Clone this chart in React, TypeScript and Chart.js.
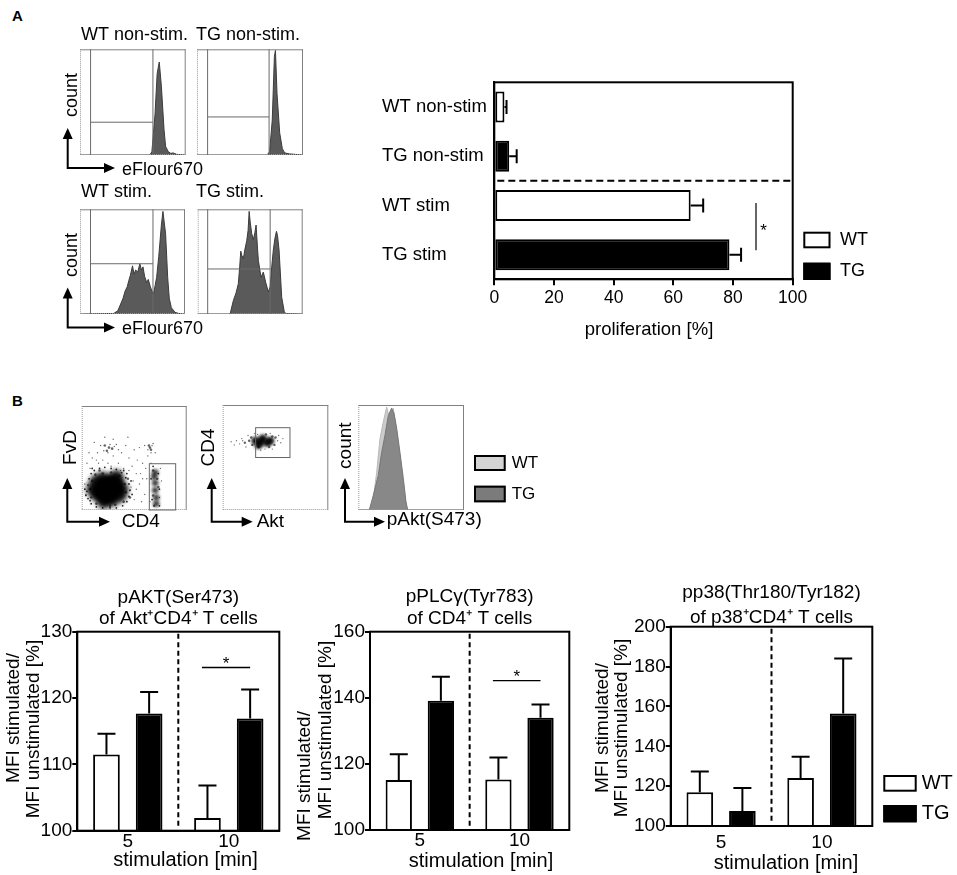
import React, { useEffect, useRef } from "react";
import { Chart, registerables } from "chart.js";

Chart.register(...registerables);

const FONT = "'Liberation Sans', Arial, Helvetica, sans-serif";
Chart.defaults.font.family = FONT;
Chart.defaults.color = "#000";

// ================= DATA =================
// Panel A – eFlour670 dilution histograms (x: fluorescence %, y: count %)
const wtNonStimX = [0, 66, 68, 71, 73, 75, 77, 79.5, 81, 83.6, 86, 88, 91.5, 100];
const wtNonStimY = [0, 0, 3, 39, 77, 88, 65, 24, 8, 3, 1.5, 2, 0.6, 0];
const tgNonStimX = [0, 66, 68.5, 71, 73, 74, 75.5, 78, 80.5, 82.7, 87.4, 100];
const tgNonStimY = [0, 0, 3, 33, 93, 99, 58, 21, 6, 2, 1, 0];
const wtStimX = [0, 32, 36, 41, 43, 45, 46.5, 48, 50, 51.5, 53, 55, 57, 58.5, 60, 61.5, 63.5, 65, 67, 68.5, 70, 71.5, 73, 75, 76, 77.5, 79, 80.5, 81.5, 83.5, 85, 87, 90.5, 94, 100];
const wtStimY = [0, 0.5, 3, 15, 22, 26, 32, 37, 46, 38, 42, 40, 48, 42, 45, 36, 30, 33, 26, 22, 19, 27, 35, 55, 67, 85, 98, 85, 77, 35, 15, 6, 1.6, 0.5, 0];
const tgStimX = [0, 30, 31, 34, 36.5, 38.7, 40, 41, 42, 43.5, 45, 46.7, 48, 49, 50, 51.4, 53, 54.5, 55.6, 57, 57.8, 60.3, 62.5, 64.8, 67.3, 69, 70.5, 72, 73.5, 75, 76, 77.5, 80, 82.5, 84, 100];
const tgStimY = [0, 0, 0.6, 13, 20, 29, 45, 60, 56, 53, 62, 70, 80, 98, 88, 77, 71, 78, 85, 62, 51, 35, 40, 30, 21, 26, 45, 61, 72, 79, 75, 61, 16, 2, 0.5, 0];
// gates: [left x, right x, horizontal y]
const wtNonStimGate = [10, 69, 31];
const tgNonStimGate = [10, 68, 36];
const wtStimGate = [10, 69.5, 48];
const tgStimGate = [9.5, 69, 43];

// Panel A – proliferation bar chart
const profCategories = ["WT non-stim", "TG non-stim", "WT stim", "TG stim"];
const profWT = [3.4, null, 65.8, null];
const profTG = [null, 5.0, null, 78.8];
const profWTErr = [0.7, null, 4.2, null];
const profTGErr = [null, 2.5, null, 3.9];
const profSigX = 87.7;
const profSigRows = [2, 3];

// Panel B – gating plots (x, y in % of plot)
const s1Core = [{ x: 25, y: 20 }, { x: 22, y: 18 }, { x: 28, y: 22 }];
const s1Blob = [
  { x: 19, y: 22 }, { x: 31, y: 19 }, { x: 24, y: 13 }, { x: 27, y: 27 }, { x: 15, y: 15 },
  { x: 34, y: 26 }, { x: 14, y: 27 }, { x: 36, y: 14 }, { x: 21, y: 8 }, { x: 29, y: 10 },
  { x: 20, y: 30 }, { x: 33, y: 32 }, { x: 11, y: 20 }, { x: 38, y: 20 },
];
const s1Cd4 = [{ x: 70, y: 26 }, { x: 70, y: 19 }, { x: 71, y: 12 }, { x: 69, y: 32 }, { x: 71, y: 6 }, { x: 70, y: 36 }];
const s1Edge = [
  { x: 5, y: 18 }, { x: 6, y: 24 }, { x: 7, y: 30 }, { x: 9, y: 35 }, { x: 12, y: 38 }, { x: 17, y: 40 },
  { x: 22, y: 41 }, { x: 28, y: 40 }, { x: 33, y: 39 }, { x: 38, y: 36 }, { x: 42, y: 31 }, { x: 45, y: 25 },
  { x: 46, y: 19 }, { x: 45, y: 13 }, { x: 43, y: 8 }, { x: 39, y: 4 }, { x: 33, y: 2 }, { x: 27, y: 2 },
  { x: 20, y: 2 }, { x: 14, y: 3 }, { x: 9, y: 6 }, { x: 6, y: 11 }, { x: 4, y: 14 }, { x: 47, y: 28 },
  { x: 40, y: 38 }, { x: 10, y: 40 }, { x: 3, y: 20 }, { x: 48, y: 15 }, { x: 8, y: 9 }, { x: 43, y: 35 },
  { x: 66, y: 30 }, { x: 74, y: 20 }, { x: 67, y: 10 }, { x: 73, y: 35 }, { x: 68, y: 42 }, { x: 74, y: 4 },
];
const s1Mid = [
  { x: 9, y: 12 }, { x: 8, y: 20 }, { x: 10, y: 28 }, { x: 13, y: 34 }, { x: 20, y: 35 }, { x: 28, y: 36 },
  { x: 36, y: 33 }, { x: 41, y: 25 }, { x: 42, y: 17 }, { x: 40, y: 8 }, { x: 32, y: 5 }, { x: 27, y: 4 },
  { x: 14, y: 6 }, { x: 44, y: 30 }, { x: 46, y: 12 }, { x: 17, y: 38 },
  { x: 26, y: 60 }, { x: 24, y: 57 }, { x: 29, y: 59 }, { x: 22, y: 62 }, { x: 65, y: 60 }, { x: 66, y: 58 },
  { x: 64, y: 62 }, { x: 68, y: 38 }, { x: 73, y: 22 }, { x: 68, y: 14 }, { x: 72, y: 30 }, { x: 69, y: 4 },
];
const s1Sparse = [
  { x: 5, y: 45 }, { x: 10, y: 50 }, { x: 15, y: 55 }, { x: 18, y: 62 }, { x: 12, y: 65 }, { x: 20, y: 48 },
  { x: 30, y: 52 }, { x: 33, y: 63 }, { x: 35, y: 45 }, { x: 38, y: 55 }, { x: 40, y: 40 }, { x: 42, y: 62 },
  { x: 45, y: 50 }, { x: 48, y: 42 }, { x: 50, y: 58 }, { x: 52, y: 35 }, { x: 55, y: 60 }, { x: 55, y: 25 },
  { x: 58, y: 45 }, { x: 60, y: 15 }, { x: 60, y: 62 }, { x: 62, y: 30 }, { x: 63, y: 52 }, { x: 66, y: 45 },
  { x: 68, y: 64 }, { x: 47, y: 22 }, { x: 50, y: 10 }, { x: 53, y: 48 }, { x: 57, y: 8 }, { x: 45, y: 38 },
  { x: 25, y: 45 }, { x: 8, y: 40 }, { x: 3, y: 25 }, { x: 22, y: 70 }, { x: 30, y: 68 }, { x: 44, y: 70 },
  { x: 70, y: 55 }, { x: 75, y: 40 }, { x: 74, y: 12 }, { x: 76, y: 28 }, { x: 65, y: 8 }, { x: 16, y: 45 },
  { x: 28, y: 42 }, { x: 37, y: 38 }, { x: 4, y: 15 }, { x: 49, y: 28 }, { x: 56, y: 35 }, { x: 61, y: 40 },
  { x: 27, y: 63 }, { x: 31, y: 61 }, { x: 21, y: 57 }, { x: 25, y: 55 }, { x: 63, y: 58 }, { x: 67, y: 62 },
  { x: 66, y: 55 }, { x: 52, y: 20 }, { x: 58, y: 30 }, { x: 35, y: 58 }, { x: 14, y: 48 }, { x: 7, y: 55 },
];
const s1Gate = [64.4, 89.5, 0, 44.5];
const s2Blob = [{ x: 36, y: 65 }, { x: 42, y: 64 }, { x: 31, y: 66 }, { x: 38, y: 68 }, { x: 45, y: 66 }, { x: 34, y: 62 }];
const s2Mid = [
  { x: 25, y: 66 }, { x: 21, y: 64 }, { x: 49, y: 62 }, { x: 50, y: 69 }, { x: 28, y: 62 },
  { x: 41, y: 72 }, { x: 27, y: 69 }, { x: 44, y: 60 }, { x: 34, y: 60 }, { x: 47, y: 70 },
];
const s2Sparse = [
  { x: 8, y: 65 }, { x: 13, y: 66 }, { x: 16, y: 63 }, { x: 18, y: 68 }, { x: 53, y: 71 }, { x: 55, y: 64 },
  { x: 30, y: 73 }, { x: 36, y: 57 }, { x: 47, y: 58 }, { x: 22, y: 60 }, { x: 11, y: 62 }, { x: 52, y: 66 },
  { x: 24, y: 71 }, { x: 40, y: 58 }, { x: 19, y: 66 }, { x: 57, y: 68 }, { x: 33, y: 72 }, { x: 45, y: 73 },
];
const s2Gate = [31.2, 63.7, 50, 78.4];
const pAktTGX = [0, 10.4, 14.2, 18.9, 22.1, 25.2, 28.4, 31.5, 33.8, 36.3, 39.4, 42.6, 45.1, 46.7, 100];
const pAktTGY = [0, 0, 14, 33, 55, 71, 90, 97, 92, 78, 55, 30, 8, 0, 0];
const pAktWTX = [0, 11, 14.2, 17.4, 20.5, 23.7, 26.8, 28.4, 30, 31.5, 33.1, 35.3, 37.9, 41, 44.2, 46.4, 100];
const pAktWTY = [0, 0, 10, 36, 68, 84, 98, 92, 88, 93, 97, 81, 62, 37, 11, 0, 0];

// Panel B – MFI bar charts
const stimCategories = ["5", "10"];
const aktWT = [111.5, 101.9];
const aktWTErr = [3.1, 4.9];
const aktTG = [117.65, 116.9];
const aktTGErr = [3.25, 4.4];
const aktSig = 124.6;
const plcWT = [115.1, 115.3];
const plcWTErr = [7.8, 6.6];
const plcTG = [139.1, 134.0];
const plcTGErr = [7.3, 4.0];
const plcSig = 145.2;
const p38WT = [116.9, 124.1];
const p38WTErr = [10.4, 10.7];
const p38TG = [107.5, 156.5];
const p38TGErr = [11.6, 27.5];

// ================= HELPERS =================
type Rect = { x: number; y: number; w: number; h: number };
type Area = { l: number; t: number; r: number; b: number };

const local = (c: Rect) => (x: number, y: number) => [x - c.x, y - c.y];

function drawText(ctx: any, str: string, x: number, y: number, size: number, opt: any = {}) {
  ctx.save();
  ctx.font = `${opt.bold ? "bold " : ""}${size}px ${FONT}`;
  ctx.fillStyle = opt.color || "#000";
  ctx.textAlign = opt.align || "center";
  ctx.textBaseline = opt.baseline || "middle";
  ctx.translate(x, y);
  if (opt.rotate) ctx.rotate(opt.rotate);
  ctx.fillText(str, 0, 0);
  ctx.restore();
}

function line(ctx: any, x1: number, y1: number, x2: number, y2: number) {
  ctx.beginPath();
  ctx.moveTo(x1, y1);
  ctx.lineTo(x2, y2);
  ctx.stroke();
}

function frame(ctx: any, a: any, w: number) {
  ctx.save();
  ctx.strokeStyle = "#000";
  ctx.lineWidth = w;
  ctx.strokeRect(a.left, a.top, a.right - a.left, a.bottom - a.top);
  ctx.restore();
}

function flowFrame(ctx: any, a: any) {
  ctx.save();
  ctx.lineWidth = 1;
  ctx.strokeStyle = "#808080";
  line(ctx, a.left, a.top + 0.5, a.right, a.top + 0.5);
  line(ctx, a.right - 0.5, a.top, a.right - 0.5, a.bottom);
  ctx.setLineDash([1, 1]);
  ctx.strokeStyle = "#9a9a9a";
  line(ctx, a.left + 0.5, a.top, a.left + 0.5, a.bottom);
  line(ctx, a.left, a.bottom - 0.5, a.right, a.bottom - 0.5);
  ctx.restore();
}

function flowAxes(ctx: any, L: any, s: any) {
  const [x0, y0] = L(s.corner[0], s.corner[1]);
  const yt = L(0, s.vTip)[1];
  const xt = L(s.hTip, 0)[0];
  ctx.save();
  ctx.strokeStyle = "#000";
  ctx.fillStyle = "#000";
  ctx.lineWidth = 2;
  ctx.lineJoin = "miter";
  ctx.beginPath();
  ctx.moveTo(x0, yt + 8);
  ctx.lineTo(x0, y0);
  ctx.lineTo(xt - 8, y0);
  ctx.stroke();
  ctx.beginPath();
  ctx.moveTo(x0, yt);
  ctx.lineTo(x0 - 5, yt + 11);
  ctx.lineTo(x0 + 5, yt + 11);
  ctx.closePath();
  ctx.fill();
  ctx.beginPath();
  ctx.moveTo(xt, y0);
  ctx.lineTo(xt - 11, y0 - 5);
  ctx.lineTo(xt - 11, y0 + 5);
  ctx.closePath();
  ctx.fill();
  ctx.restore();
  const [yx, yy] = L(s.yLabel[1], s.yLabel[2]);
  drawText(ctx, s.yLabel[0], yx, yy, s.size, { rotate: -Math.PI / 2 });
  const [xx, xy] = L(s.xLabel[1], s.xLabel[2]);
  drawText(ctx, s.xLabel[0], xx, xy, s.size, { align: "left" });
}

function legendItem(ctx: any, L: any, box: number[], fill: string, label: string, tx: number, size: number) {
  const [x, y] = L(box[0], box[1]);
  const w = box[2] - box[0];
  const h = box[3] - box[1];
  ctx.save();
  ctx.fillStyle = fill;
  ctx.fillRect(x, y, w, h);
  ctx.strokeStyle = "#000";
  ctx.lineWidth = 2;
  ctx.strokeRect(x + 1, y + 1, w - 2, h - 2);
  ctx.restore();
  drawText(ctx, label, L(tx, 0)[0], y + h / 2, size, { align: "left" });
}

function errorBars(chart: any, errs: any[], horizontal: boolean, cap: number) {
  const ctx = chart.ctx;
  ctx.save();
  ctx.strokeStyle = "#000";
  ctx.lineWidth = 2;
  chart.data.datasets.forEach((ds: any, i: number) => {
    const meta = chart.getDatasetMeta(i);
    ds.data.forEach((v: any, j: number) => {
      const e = errs[i][j];
      if (v == null || e == null) return;
      const el = meta.data[j];
      ctx.beginPath();
      if (horizontal) {
        const x2 = chart.scales.x.getPixelForValue(v + e);
        ctx.moveTo(el.x, el.y);
        ctx.lineTo(x2, el.y);
        ctx.moveTo(x2, el.y - cap);
        ctx.lineTo(x2, el.y + cap);
      } else {
        const y2 = chart.scales.y.getPixelForValue(v + e);
        ctx.moveTo(el.x, el.y);
        ctx.lineTo(el.x, y2);
        ctx.moveTo(el.x - cap, y2);
        ctx.lineTo(el.x + cap, y2);
      }
      ctx.stroke();
    });
  });
  ctx.restore();
}

function asterisk(ctx: any, x: number, cy: number) {
  drawText(ctx, "*", x, cy + 9.5, 17, { baseline: "alphabetic" });
}

const pts = (xs: number[], ys: number[]) => xs.map((x, i) => ({ x, y: ys[i] }));

function histDataset(xs: number[], ys: number[], fill: string, stroke: string) {
  return { data: pts(xs, ys), fill: "origin", backgroundColor: fill, borderColor: stroke, borderWidth: 1, pointRadius: 0, tension: 0 };
}

function bubbleDataset(points: any[], radius: number, color: string, blur = 0) {
  return { data: points.map((p) => ({ x: p.x, y: p.y, r: radius })), backgroundColor: color, borderWidth: 0, blur };
}

// soft-edge for dense cell populations
const blurPlugin = {
  id: "densityBlur",
  beforeDatasetDraw(chart: any, args: any) {
    const b = chart.data.datasets[args.index].blur;
    chart.ctx.save();
    if (b) chart.ctx.filter = `blur(${b}px)`;
  },
  afterDatasetDraw(chart: any) {
    chart.ctx.restore();
  },
};

function flowConfig(canvas: Rect, area: Area, type: string, datasets: any[], decor: any) {
  return {
    type,
    data: { datasets },
    options: {
      animation: false,
      responsive: false,
      events: [],
      layout: {
        padding: {
          left: area.l - canvas.x,
          top: area.t - canvas.y,
          right: canvas.x + canvas.w - area.r,
          bottom: canvas.y + canvas.h - area.b,
        },
      },
      scales: {
        x: { type: "linear", min: 0, max: 100, display: false },
        y: { type: "linear", min: 0, max: 100, display: false },
      },
      plugins: { legend: { display: false }, tooltip: { enabled: false } },
    },
    plugins: [blurPlugin, { id: "flowDecor", afterDraw: (chart: any) => decor(chart, local(canvas)) }],
  };
}

function gateLines(chart: any, gate: number[]) {
  const { ctx, chartArea: a, scales } = chart;
  const gx1 = scales.x.getPixelForValue(gate[0]);
  const gx2 = scales.x.getPixelForValue(gate[1]);
  const gy = scales.y.getPixelForValue(gate[2]);
  ctx.save();
  ctx.strokeStyle = "#6a6a6a";
  ctx.lineWidth = 1;
  line(ctx, gx1, a.top, gx1, a.bottom);
  line(ctx, gx2, a.top, gx2, a.bottom);
  line(ctx, gx1, gy, gx2, gy);
  ctx.restore();
}

function gateRect(chart: any, g: number[]) {
  const { ctx, scales } = chart;
  const x1 = scales.x.getPixelForValue(g[0]);
  const x2 = scales.x.getPixelForValue(g[1]);
  const y1 = scales.y.getPixelForValue(g[2]);
  const y2 = scales.y.getPixelForValue(g[3]);
  ctx.save();
  ctx.strokeStyle = "#666";
  ctx.lineWidth = 1;
  ctx.strokeRect(x1, y2, x2 - x1, y1 - y2);
  ctx.restore();
}

function histConfig(canvas: Rect, area: Area, xs: number[], ys: number[], gate: number[], title: string, titlePos: number[], axes?: any) {
  return flowConfig(canvas, area, "line", [histDataset(xs, ys, "#5a5a5a", "#3c3c3c")], (chart: any, L: any) => {
    const { ctx, chartArea: a } = chart;
    flowFrame(ctx, a);
    gateLines(chart, gate);
    const [tx, ty] = L(titlePos[0], titlePos[1]);
    drawText(ctx, title, tx, ty, 18, { align: "left" });
    if (axes) flowAxes(ctx, L, axes);
  });
}

function stimBarConfig(p: any) {
  const xH = 30;
  const c: Rect = p.canvas;
  const a: Area = p.area;
  const barStyle = { borderColor: "#000", borderWidth: 2, borderSkipped: false, barPercentage: 0.625, categoryPercentage: 0.845 };
  return {
    type: "bar",
    data: {
      labels: stimCategories,
      datasets: [
        { label: "WT", data: p.wt, backgroundColor: "#fff", ...barStyle },
        { label: "TG", data: p.tg, backgroundColor: "#000", ...barStyle },
      ],
    },
    options: {
      animation: false,
      responsive: false,
      events: [],
      layout: { padding: { left: 0, top: a.t - c.y, right: c.x + c.w - a.r, bottom: c.y + c.h - a.b - xH } },
      scales: {
        x: {
          type: "category",
          grid: { display: false, drawTicks: false },
          border: { color: "#000", width: 2 },
          ticks: { font: { size: 19, lineHeight: 1 }, color: "#000", padding: p.xTickPad },
          afterFit: (s: any) => { s.height = xH; },
        },
        y: {
          type: "linear",
          min: p.yMin,
          max: p.yMax,
          ticks: { stepSize: p.yStep, font: { size: 19, lineHeight: 1 }, color: "#000", padding: 0 },
          grid: { drawOnChartArea: false, tickLength: 5, color: "#000", lineWidth: 2 },
          border: { color: "#000", width: 2 },
          afterFit: (s: any) => { s.width = a.l - c.x; },
        },
      },
      plugins: { legend: { display: false }, tooltip: { enabled: false } },
    },
    plugins: [
      {
        id: "stimDecor",
        afterDraw: (chart: any) => {
          const L = local(c);
          const { ctx, chartArea: ca, scales } = chart;
          frame(ctx, ca, 2);
          const xd = (scales.x.getPixelForValue(0) + scales.x.getPixelForValue(1)) / 2;
          ctx.save();
          ctx.strokeStyle = "#000";
          ctx.lineWidth = 2;
          ctx.setLineDash([5, 3.5]);
          line(ctx, xd, ca.top + 2, xd, ca.bottom - 2);
          ctx.restore();
          errorBars(chart, [p.wtErr, p.tgErr], false, 9);
          if (p.sig != null) {
            const sy = scales.y.getPixelForValue(p.sig);
            const x1 = chart.getDatasetMeta(0).data[1].x - 5.5;
            const x2 = chart.getDatasetMeta(1).data[1].x;
            ctx.save();
            ctx.strokeStyle = "#000";
            ctx.lineWidth = 1.3;
            line(ctx, x1, sy, x2, sy);
            ctx.restore();
            asterisk(ctx, (x1 + x2) / 2, sy - 8.5);
          }
          const cx = (ca.left + ca.right) / 2;
          drawText(ctx, p.title[0], cx, ca.top + p.titleDy[0], 19);
          drawText(ctx, p.title[1], cx, ca.top + p.titleDy[1], 19);
          p.yTitle.forEach((t: any) => {
            const [x, y] = L(t[1], t[2]);
            drawText(ctx, t[0], x, y, 19, { rotate: -Math.PI / 2 });
          });
          const [xtX, xtY] = L(p.xTitle[0], p.xTitle[1]);
          drawText(ctx, "stimulation [min]", xtX, xtY, 20);
          if (p.legend) {
            legendItem(ctx, L, [883.3, 775, 916.7, 791.7], "#fff", "WT", 921.7, 20);
            legendItem(ctx, L, [883.3, 805, 916.7, 822.3], "#000", "TG", 921.7, 20);
          }
        },
      },
    ],
  };
}

// ================= CHART CONFIGS =================
const profCanvas: Rect = { x: 370, y: 60, w: 530, h: 290 };
const profArea: Area = { l: 494.3, t: 82.3, r: 792.7, b: 279.3 };

function profConfig() {
  const c = profCanvas;
  const a = profArea;
  const xH = 35;
  const barStyle = { borderColor: "#000", borderWidth: 2, borderSkipped: false, barPercentage: 0.63, categoryPercentage: 1, grouped: false };
  return {
    type: "bar",
    data: {
      labels: profCategories,
      datasets: [
        { label: "WT", data: profWT, backgroundColor: "#fff", ...barStyle },
        { label: "TG", data: profTG, backgroundColor: "#000", ...barStyle },
      ],
    },
    options: {
      indexAxis: "y",
      animation: false,
      responsive: false,
      events: [],
      layout: { padding: { left: 12, top: a.t - c.y, right: c.x + c.w - a.r, bottom: c.y + c.h - a.b - xH } },
      scales: {
        x: {
          type: "linear",
          min: 0,
          max: 100,
          ticks: { stepSize: 20, font: { size: 17.5, lineHeight: 1.2 }, color: "#000", padding: 2.5 },
          grid: { drawOnChartArea: false, tickLength: 6, color: "#000", lineWidth: 2 },
          border: { color: "#000", width: 2 },
          afterFit: (s: any) => { s.height = xH; },
        },
        y: {
          type: "category",
          ticks: { crossAlign: "far", font: { size: 18.5 }, color: "#000" },
          grid: { display: false },
          border: { color: "#000", width: 2 },
          afterFit: (s: any) => { s.width = a.l - c.x - 12; },
        },
      },
      plugins: { legend: { display: false }, tooltip: { enabled: false } },
    },
    plugins: [
      {
        id: "profDecor",
        afterDraw: (chart: any) => {
          const L = local(c);
          const { ctx, chartArea: ca, scales } = chart;
          frame(ctx, ca, 2);
          const yd = (scales.y.getPixelForValue(1) + scales.y.getPixelForValue(2)) / 2;
          ctx.save();
          ctx.strokeStyle = "#000";
          ctx.lineWidth = 2;
          ctx.setLineDash([7, 4]);
          line(ctx, ca.left + 3, yd, ca.right, yd);
          ctx.restore();
          errorBars(chart, [profWTErr, profTGErr], true, 7);
          const sx = scales.x.getPixelForValue(profSigX);
          const y1 = scales.y.getPixelForValue(profSigRows[0]) - 2.5;
          const y2 = scales.y.getPixelForValue(profSigRows[1]) - 4.5;
          ctx.save();
          ctx.strokeStyle = "#000";
          ctx.lineWidth = 1.2;
          line(ctx, sx, y1, sx, y2);
          ctx.restore();
          asterisk(ctx, sx + 7.6, (y1 + y2) / 2);
          const [tx, ty] = L(649, 330);
          drawText(ctx, "proliferation [%]", tx, ty, 18.5);
          legendItem(ctx, L, [803.3, 231.7, 830.5, 248.3], "#fff", "WT", 840, 18);
          legendItem(ctx, L, [803.3, 262.7, 830.5, 280], "#000", "TG", 840, 18);
        },
      },
    ],
  };
}

const chartDefs: { rect: Rect; make: () => any }[] = [];

// Panel A histograms
const aAxesTop = { corner: [67.7, 168], vTip: 128, hTip: 115, yLabel: ["count", 72, 95], xLabel: ["eFlour670", 122, 170], size: 18 };
const aAxesBottom = { corner: [67.7, 327.5], vTip: 287.5, hTip: 115, yLabel: ["count", 72, 255], xLabel: ["eFlour670", 122, 329.5], size: 18 };

const cWtNS: Rect = { x: 45, y: 20, w: 170, h: 165 };
const cTgNS: Rect = { x: 190, y: 20, w: 125, h: 165 };
const cWtS: Rect = { x: 45, y: 180, w: 170, h: 170 };
const cTgS: Rect = { x: 190, y: 180, w: 125, h: 170 };
chartDefs.push({ rect: cWtNS, make: () => histConfig(cWtNS, { l: 80, t: 49.3, r: 185.7, b: 155 }, wtNonStimX, wtNonStimY, wtNonStimGate, "WT non-stim.", [81, 35.5], aAxesTop) });
chartDefs.push({ rect: cTgNS, make: () => histConfig(cTgNS, { l: 197, t: 49.3, r: 303, b: 155 }, tgNonStimX, tgNonStimY, tgNonStimGate, "TG non-stim.", [196, 35.5]) });
chartDefs.push({ rect: cWtS, make: () => histConfig(cWtS, { l: 80, t: 209.3, r: 185, b: 314 }, wtStimX, wtStimY, wtStimGate, "WT stim.", [81, 192.5], aAxesBottom) });
chartDefs.push({ rect: cTgS, make: () => histConfig(cTgS, { l: 197.7, t: 209.3, r: 302.7, b: 314 }, tgStimX, tgStimY, tgStimGate, "TG stim.", [196, 192.5]) });
chartDefs.push({ rect: profCanvas, make: profConfig });

// Panel B gating plots
const cS1: Rect = { x: 45, y: 395, w: 175, h: 145 };
const cS2: Rect = { x: 190, y: 395, w: 150, h: 145 };
const cH: Rect = { x: 330, y: 395, w: 230, h: 145 };
chartDefs.push({
  rect: cS1,
  make: () =>
    flowConfig(cS1, { l: 81.7, t: 405, r: 186.7, b: 510 }, "bubble", [
      bubbleDataset(s1Core, 11, "rgba(0,0,0,1)", 2),
      bubbleDataset(s1Blob, 7, "rgba(0,0,0,0.9)", 2.5),
      bubbleDataset(s1Cd4, 3.3, "rgba(0,0,0,0.75)", 1.5),
      bubbleDataset(s1Edge, 0.9, "rgba(0,0,0,0.85)"),
      bubbleDataset(s1Mid, 1.3, "rgba(0,0,0,0.6)"),
      bubbleDataset(s1Sparse, 0.7, "rgba(0,0,0,0.6)"),
    ], (chart: any, L: any) => {
      flowFrame(chart.ctx, chart.chartArea);
      gateRect(chart, s1Gate);
      flowAxes(chart.ctx, L, { corner: [67.3, 521.7], vTip: 478, hTip: 110, yLabel: ["FvD", 70.7, 447.5], xLabel: ["CD4", 121.7, 521.7], size: 19 });
    }),
});
chartDefs.push({
  rect: cS2,
  make: () =>
    flowConfig(cS2, { l: 222.7, t: 405, r: 328.3, b: 510 }, "bubble", [
      bubbleDataset(s2Blob, 4, "rgba(0,0,0,0.9)", 1.5),
      bubbleDataset(s2Mid, 1.2, "rgba(0,0,0,0.6)"),
      bubbleDataset(s2Sparse, 0.7, "rgba(0,0,0,0.55)"),
    ], (chart: any, L: any) => {
      flowFrame(chart.ctx, chart.chartArea);
      gateRect(chart, s2Gate);
      flowAxes(chart.ctx, L, { corner: [211.7, 521.7], vTip: 478, hTip: 252.7, yLabel: ["CD4", 208.3, 447.5], xLabel: ["Akt", 256.7, 521.7], size: 19 });
    }),
});
chartDefs.push({
  rect: cH,
  make: () =>
    flowConfig(cH, { l: 358.3, t: 405, r: 464, b: 510 }, "line", [
      histDataset(pAktTGX, pAktTGY, "#888888", "#777777"),
      histDataset(pAktWTX, pAktWTY, "#cbcbcb", "#b8b8b8"),
    ], (chart: any, L: any) => {
      flowFrame(chart.ctx, chart.chartArea);
      flowAxes(chart.ctx, L, { corner: [345, 521.7], vTip: 478, hTip: 385, yLabel: ["count", 345.8, 445.7], xLabel: ["pAkt(S473)", 386.7, 520], size: 19 });
      legendItem(chart.ctx, L, [474, 455, 505.7, 471], "#d4d4d4", "WT", 511.7, 17);
      legendItem(chart.ctx, L, [474, 485.7, 505.7, 502.3], "#7b7b7b", "TG", 511.7, 17);
    }),
});

// Panel B bar charts
const cB1: Rect = { x: 0, y: 575, w: 300, h: 300 };
const cB2: Rect = { x: 290, y: 575, w: 300, h: 300 };
const cB3: Rect = { x: 590, y: 575, w: 367, h: 300 };
chartDefs.push({
  rect: cB1,
  make: () =>
    stimBarConfig({
      canvas: cB1, area: { l: 77.3, t: 631.7, r: 279.3, b: 830.7 },
      wt: aktWT, wtErr: aktWTErr, tg: aktTG, tgErr: aktTGErr, sig: aktSig,
      yMin: 100, yMax: 130, yStep: 10, xTickPad: 1.5,
      title: ["pAKT(Ser473)", "of Akt\u207ACD4\u207A T cells"], titleDy: [-33.7, -12.7],
      yTitle: [["MFI stimulated/", 13.3, 718], ["MFI unstimulated [%]", 33.3, 729]],
      xTitle: [185.5, 860.5],
    }),
});
chartDefs.push({
  rect: cB2,
  make: () =>
    stimBarConfig({
      canvas: cB2, area: { l: 370, t: 631.7, r: 569.3, b: 830 },
      wt: plcWT, wtErr: plcWTErr, tg: plcTG, tgErr: plcTGErr, sig: plcSig,
      yMin: 100, yMax: 160, yStep: 20, xTickPad: 1.5,
      title: ["pPLC\u03B3(Tyr783)", "of CD4\u207A T cells"], titleDy: [-34.7, -12.7],
      yTitle: [["MFI stimulated/", 305, 776], ["MFI unstimulated [%]", 325.5, 730]],
      xTitle: [481, 861.5],
    }),
});
chartDefs.push({
  rect: cB3,
  make: () =>
    stimBarConfig({
      canvas: cB3, area: { l: 670.7, t: 626.7, r: 872.3, b: 826 },
      wt: p38WT, wtErr: p38WTErr, tg: p38TG, tgErr: p38TGErr, sig: null,
      yMin: 100, yMax: 200, yStep: 20, xTickPad: 7.5,
      title: ["pp38(Thr180/Tyr182)", "of p38\u207ACD4\u207A T cells"], titleDy: [-33.7, -9.2],
      yTitle: [["MFI stimulated/", 603, 728], ["MFI unstimulated [%]", 622, 728]],
      xTitle: [786, 863], legend: true,
    }),
});

// ================= COMPONENTS =================
function ChartCanvas({ rect, make }: { rect: Rect; make: () => any }) {
  const ref = useRef<HTMLCanvasElement>(null);
  useEffect(() => {
    const chart = new Chart(ref.current as HTMLCanvasElement, make());
    return () => chart.destroy();
  }, []);
  return (
    <canvas
      ref={ref}
      width={rect.w}
      height={rect.h}
      style={{ position: "absolute", left: rect.x, top: rect.y, width: rect.w, height: rect.h, display: "block" }}
    />
  );
}

export default function App() {
  const letter: React.CSSProperties = { position: "absolute", fontFamily: FONT, fontWeight: "bold", fontSize: 15, lineHeight: "15px", color: "#000" };
  return (
    <div style={{ position: "absolute", left: 0, top: 0, width: 957, height: 875, background: "#fff", overflow: "hidden" }}>
      <div style={{ ...letter, left: 12, top: 7.7 }}>A</div>
      <div style={{ ...letter, left: 12, top: 392.7 }}>B</div>
      {chartDefs.map((d, i) => (
        <ChartCanvas key={i} rect={d.rect} make={d.make} />
      ))}
    </div>
  );
}
